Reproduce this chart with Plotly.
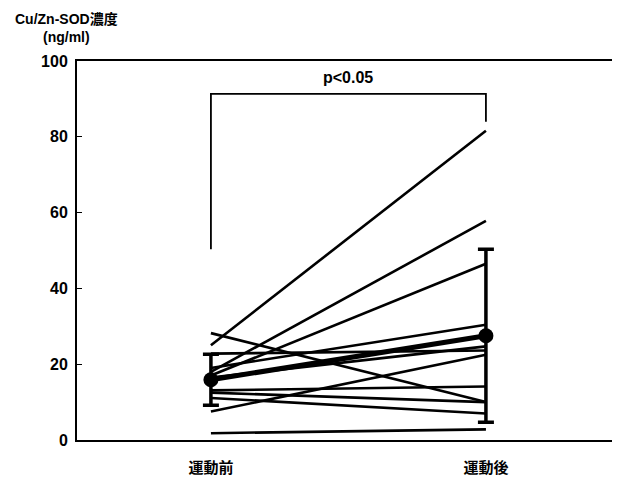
import plotly.graph_objects as go

# Data
categories = ["運動前", "運動後"]
pre_values = [25.0, 18.0, 17.0, 28.2, 22.8, 19.0, 16.5, 13.1, 11.1, 7.5, 1.8, 12.5]
post_values = [81.6, 57.8, 46.5, 10.0, 23.6, 30.4, 24.7, 14.1, 7.0, 22.5, 2.8, 10.0]
mean_values = [15.9, 27.5]
sd_values = [6.7, 22.8]
y_ticks = [0, 20, 40, 60, 80, 100]
bracket_top = 91.3
bracket_left_end = 50.3
bracket_right_end = 84.0
p_text = "p<0.05"
y_title = "Cu/Zn-SOD濃度<br>(ng/ml)"

xpos = [0, 1]
fig = go.Figure()

for a, b in zip(pre_values, post_values):
    fig.add_trace(go.Scatter(x=xpos, y=[a, b], mode="lines",
                             line=dict(color="black", width=2.6),
                             showlegend=False, hoverinfo="skip"))

fig.add_trace(go.Scatter(
    x=xpos, y=mean_values, mode="lines+markers",
    line=dict(color="black", width=5),
    marker=dict(color="black", size=15),
    error_y=dict(type="data", array=sd_values, visible=True,
                 color="black", thickness=3.5, width=8),
    showlegend=False))

# significance bracket
fig.add_trace(go.Scatter(
    x=[xpos[0], xpos[0], xpos[1], xpos[1]],
    y=[bracket_left_end, bracket_top, bracket_top, bracket_right_end],
    mode="lines", line=dict(color="black", width=1.8),
    showlegend=False, hoverinfo="skip"))

fig.add_annotation(x=0.5, y=bracket_top, xref="x", yref="y", text=p_text,
                   showarrow=False, yanchor="bottom", yshift=6,
                   font=dict(family="Liberation Sans", size=16, color="black", weight="bold"))

# page has an 8px body margin; plot box runs off the right edge as in the reference
W, H = 620, 470
L, R, T, B = 69, 0, 53, 38
PW, PH = W - L - R, H - T - B

fig.add_annotation(x=(66 - 8 - L) / PW, y=1 + (T - (28 - 8)) / PH, xref="paper", yref="paper",
                   text=y_title, showarrow=False, xanchor="center", yanchor="middle",
                   align="center",
                   font=dict(family="Liberation Sans, Noto Sans CJK JP", size=14,
                             color="black", weight="bold"))

fig.update_layout(
    width=W, height=H,
    margin=dict(l=L, r=R, t=T, b=B, autoexpand=False),
    paper_bgcolor="white", plot_bgcolor="white",
    xaxis=dict(range=[-0.487, -0.487 + PW / 275], tickvals=xpos, ticktext=categories,
               showgrid=False, zeroline=False, showline=True, linecolor="black",
               linewidth=2, mirror=True, ticks="", ticklabelstandoff=13, automargin=False,
               tickfont=dict(family="Noto Sans CJK JP", size=15, color="black", weight="bold")),
    yaxis=dict(range=[0, 100], tickvals=y_ticks, showgrid=False, zeroline=False,
               showline=True, linecolor="black", linewidth=2, mirror=False,
               ticks="inside", ticklen=5, tickcolor="black", tickwidth=1,
               ticklabelstandoff=4, automargin=False,
               tickfont=dict(family="Liberation Sans", size=16, color="black", weight="bold")),
)

fig.write_html("out.html")
